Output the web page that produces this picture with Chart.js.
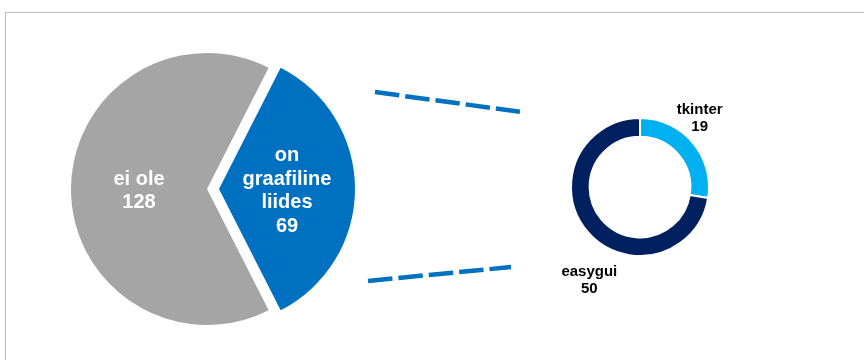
<!DOCTYPE html>
<html>
<head>
<meta charset="utf-8">
<script src="https://cdn.jsdelivr.net/npm/chart.js@4.4.1/dist/chart.umd.min.js"></script>
<style>
  html, body { margin: 0; padding: 0; background: #fff; }
  #wrap { position: relative; width: 864px; height: 360px; overflow: hidden; }
  #frame { position: absolute; left: 5px; top: 12px; width: 900px; height: 400px; border: 1px solid #BFBFBF; }
  #wrap canvas { position: absolute; left: 0; top: 0; }
</style>
</head>
<body>
<div id="wrap">
  <div id="frame"></div>
  <canvas id="pieChart" width="864" height="360"></canvas>
  <canvas id="donutChart" width="864" height="360"></canvas>
</div>
<script>
// main pie
const pieCategories = [["ei ole"], ["on", "graafiline", "liides"]];
const pieValues = [128, 69];
// split of "on graafiline liides"
const donutCategories = ["tkinter", "easygui"];
const donutValues = [19, 50];

const FONT = "'Liberation Sans', Arial, sans-serif";

// blue slice is centred on the right side
const pieRotation = 90 + (pieValues[1] / (pieValues[0] + pieValues[1])) * 180;

// pull a slice out along its mid angle (px)
const explodePlugin = {
  id: "explode",
  afterDatasetUpdate(chart, args) {
    const ds = chart.data.datasets[args.index];
    if (!ds.explode) return;
    args.meta.data.forEach((arc, i) => {
      const d = ds.explode[i] || 0;
      if (!d) return;
      const mid = (arc.startAngle + arc.endAngle) / 2;
      arc.x += Math.cos(mid) * d;
      arc.y += Math.sin(mid) * d;
    });
  }
};

const pieLabelPlugin = {
  id: "pieLabels",
  afterDatasetsDraw(chart) {
    const ctx = chart.ctx;
    const meta = chart.getDatasetMeta(0);
    ctx.save();
    ctx.fillStyle = "#fff";
    ctx.font = "bold 20px " + FONT;
    ctx.textAlign = "center";
    ctx.textBaseline = "middle";
    meta.data.forEach((arc, i) => {
      const p = arc.getCenterPoint();
      const lines = [].concat(chart.data.labels[i], String(pieValues[i]));
      const lh = 23.5;
      const y0 = p.y + 2 - (lines.length - 1) * lh / 2;
      lines.forEach((t, k) => ctx.fillText(t, p.x, y0 + k * lh));
    });
    ctx.restore();
  }
};

const pieChart = new Chart(document.getElementById("pieChart").getContext("2d"), {
  type: "pie",
  data: {
    labels: pieCategories,
    datasets: [{
      data: pieValues,
      backgroundColor: ["#A5A5A5", "#0070C0"],
      borderWidth: 0,
      explode: [0, 12]
    }]
  },
  options: {
    responsive: false,
    animation: false,
    events: [],
    rotation: pieRotation,
    layout: { padding: { left: 71, top: 53, right: 521, bottom: 35 } },
    plugins: { legend: { display: false }, tooltip: { enabled: false } }
  },
  plugins: [explodePlugin, pieLabelPlugin]
});

// dashed connectors: [x, y] as fractions of each radius from the slice / ring centre
const connectors = [
  { from: [1.147, -0.713], to: [-1.74, -1.09] },
  { from: [1.096, 0.676], to: [-1.87, 1.16] }
];
// small shifts for the outside labels of the ring
const donutLabelNudge = [[-2, 1], [11, 24]];

const donutPlugin = {
  id: "donutExtras",
  afterDatasetsDraw(chart) {
    const ctx = chart.ctx;
    const arcs = chart.getDatasetMeta(0).data;
    const cx = arcs[0].x, cy = arcs[0].y, r = arcs[0].outerRadius;
    const blue = pieChart.getDatasetMeta(0).data[1];

    ctx.save();
    ctx.strokeStyle = "#0070C0";
    ctx.lineWidth = 4.5;
    ctx.lineCap = "butt";
    ctx.setLineDash([24.5, 6]);
    connectors.forEach(c => {
      ctx.beginPath();
      ctx.moveTo(blue.x + c.from[0] * blue.outerRadius, blue.y + c.from[1] * blue.outerRadius);
      ctx.lineTo(cx + c.to[0] * r, cy + c.to[1] * r);
      ctx.stroke();
    });
    ctx.restore();

    ctx.save();
    ctx.fillStyle = "#000";
    ctx.font = "bold 15px " + FONT;
    ctx.textAlign = "center";
    ctx.textBaseline = "middle";
    const lh = 17;
    arcs.forEach((arc, i) => {
      const mid = (arc.startAngle + arc.endAngle) / 2;
      const d = r + 12;
      const sy = Math.sin(mid) >= 0 ? 1 : -1;
      const x = cx + Math.cos(mid) * d + donutLabelNudge[i][0];
      const y = cy + Math.sin(mid) * d + sy * lh + donutLabelNudge[i][1];
      ctx.fillText(chart.data.labels[i], x, y - lh / 2);
      ctx.fillText(String(donutValues[i]), x, y + lh / 2);
    });
    ctx.restore();
  }
};

new Chart(document.getElementById("donutChart").getContext("2d"), {
  type: "doughnut",
  data: {
    labels: donutCategories,
    datasets: [{
      data: donutValues,
      backgroundColor: ["#00B0F0", "#002060"],
      borderColor: "#fff",
      borderWidth: 2
    }]
  },
  options: {
    responsive: false,
    animation: false,
    events: [],
    cutout: "73%",
    layout: { padding: { left: 570, top: 117, right: 154, bottom: 103 } },
    plugins: { legend: { display: false }, tooltip: { enabled: false } }
  },
  plugins: [donutPlugin]
});
</script>
</body>
</html>
